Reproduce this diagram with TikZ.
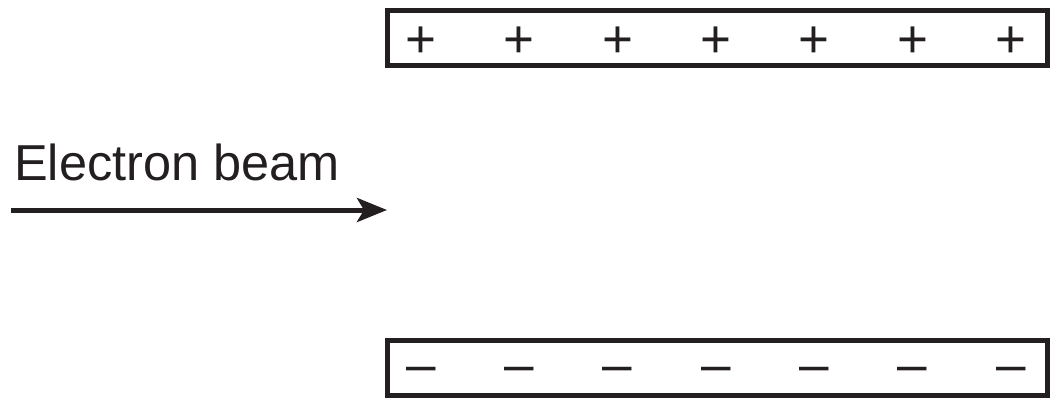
\documentclass[tikz,border=0pt]{standalone}
\usepackage{fontspec}
\setmainfont{Liberation Sans}
\usetikzlibrary{arrows.meta}
\definecolor{ink}{HTML}{231F20}
\begin{document}
\begin{tikzpicture}[x=1pt,y=-1pt,
  plate/.style={draw=ink,line width=5pt,rectangle,minimum width=660pt,minimum height=55pt,inner sep=0pt},
  sign/.style={text=ink,font=\fontsize{53}{60}\selectfont,inner sep=0pt,anchor=base},
  label/.style={text=ink,font=\fontsize{50.5}{58}\selectfont,inner sep=0pt,anchor=base west},
  beam/.style={draw=ink,line width=5pt,-{Stealth[length=30pt,width=24pt,inset=7pt]}}]
\useasboundingbox (0,0) rectangle (1060,408);
\node[plate] (top) at (717.5,38) {};
\node[plate] (bottom) at (717.5,368) {};
\foreach \i in {0,...,6} {
  \node[sign] (p\i) at ({421+98.33*\i},57.6) {+};
  \node[sign] (m\i) at ({421+98.33*\i},382.6) {–};
}
\node[label] (lbl) at (14,180) {Electron beam};
\coordinate (beamstart) at (11,210);
\coordinate (beamend) at (387,210);
\draw[beam] (beamstart) -- (beamend);
\end{tikzpicture}
\end{document}
